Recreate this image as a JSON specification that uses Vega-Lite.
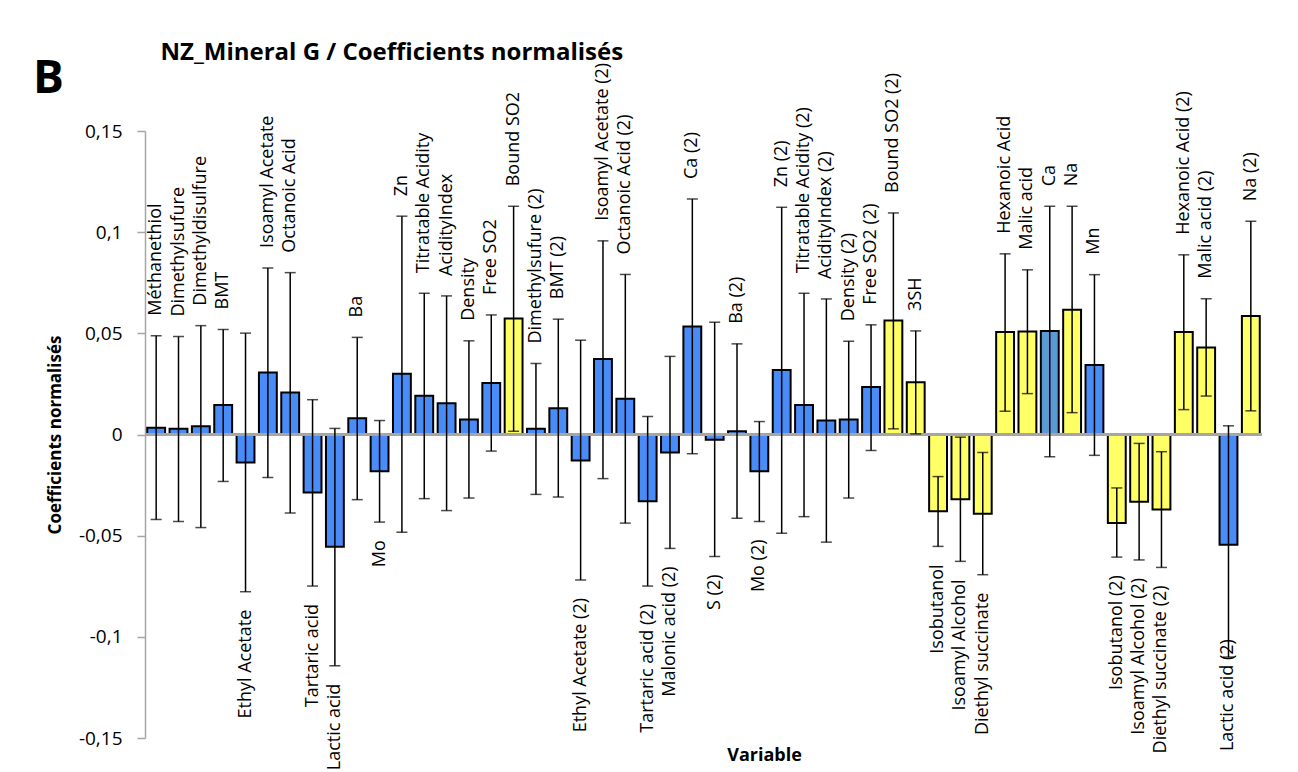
{
  "$schema": "https://vega.github.io/schema/vega-lite/v6.json",
  "width": 1117,
  "height": 607,
  "autosize": {"type": "none"},
  "padding": {"left": 145, "top": 131, "right": 36, "bottom": 34},
  "background": "white",
  "config": {"view": {"stroke": null}, "font": "Open Sans"},
  "data": {
    "values": [
      {"name": "Méthanethiol", "v": 0.0033, "lo": -0.042, "hi": 0.0488, "g": "b"},
      {"name": "Dimethylsufure", "v": 0.0028, "lo": -0.043, "hi": 0.0484, "g": "b"},
      {"name": "Dimethyldisulfure", "v": 0.0041, "lo": -0.046, "hi": 0.0538, "g": "b"},
      {"name": "BMT", "v": 0.0146, "lo": -0.0232, "hi": 0.0519, "g": "b"},
      {"name": "Ethyl Acetate", "v": -0.0138, "lo": -0.0777, "hi": 0.0501, "g": "b"},
      {"name": "Isoamyl Acetate", "v": 0.0307, "lo": -0.0212, "hi": 0.0823, "g": "b"},
      {"name": "Octanoic Acid", "v": 0.0208, "lo": -0.0388, "hi": 0.08, "g": "b"},
      {"name": "Tartaric  acid", "v": -0.0287, "lo": -0.0749, "hi": 0.0172, "g": "b"},
      {"name": "Lactic acid", "v": -0.0555, "lo": -0.1143, "hi": 0.003, "g": "b"},
      {"name": "Ba", "v": 0.008, "lo": -0.0322, "hi": 0.048, "g": "b"},
      {"name": "Mo", "v": -0.0182, "lo": -0.0433, "hi": 0.0069, "g": "b"},
      {"name": "Zn", "v": 0.03, "lo": -0.0483, "hi": 0.1079, "g": "b"},
      {"name": "Titratable Acidity", "v": 0.0192, "lo": -0.0317, "hi": 0.0698, "g": "b"},
      {"name": "AcidityIndex", "v": 0.0154, "lo": -0.0376, "hi": 0.0685, "g": "b"},
      {"name": "Density", "v": 0.0074, "lo": -0.0314, "hi": 0.0463, "g": "b"},
      {"name": "Free SO2", "v": 0.0255, "lo": -0.0082, "hi": 0.0591, "g": "b"},
      {"name": "Bound SO2", "v": 0.0573, "lo": 0.0016, "hi": 0.1128, "g": "y"},
      {"name": "Dimethylsufure  (2)", "v": 0.0028, "lo": -0.0296, "hi": 0.0351, "g": "b"},
      {"name": "BMT (2)", "v": 0.013, "lo": -0.0309, "hi": 0.057, "g": "b"},
      {"name": "Ethyl Acetate  (2)", "v": -0.0128, "lo": -0.0719, "hi": 0.0466, "g": "b"},
      {"name": "Isoamyl Acetate  (2)", "v": 0.0373, "lo": -0.0218, "hi": 0.0957, "g": "b"},
      {"name": "Octanoic Acid (2)", "v": 0.0177, "lo": -0.0438, "hi": 0.0791, "g": "b"},
      {"name": "Tartaric  acid (2)", "v": -0.033, "lo": -0.0749, "hi": 0.0089, "g": "b"},
      {"name": "Malonic acid (2)", "v": -0.0089, "lo": -0.0563, "hi": 0.0386, "g": "b"},
      {"name": "Ca (2)", "v": 0.0534, "lo": -0.0095, "hi": 0.1164, "g": "b"},
      {"name": "S (2)", "v": -0.0026, "lo": -0.0603, "hi": 0.0555, "g": "b"},
      {"name": "Ba (2)", "v": 0.0016, "lo": -0.0414, "hi": 0.0448, "g": "b"},
      {"name": "Mo (2)", "v": -0.0182, "lo": -0.043, "hi": 0.0064, "g": "b"},
      {"name": "Zn (2)", "v": 0.0319, "lo": -0.0488, "hi": 0.1123, "g": "b"},
      {"name": "Titratable Acidity  (2)", "v": 0.0146, "lo": -0.0406, "hi": 0.0698, "g": "b"},
      {"name": "AcidityIndex (2)", "v": 0.0069, "lo": -0.0532, "hi": 0.067, "g": "b"},
      {"name": "Density (2)", "v": 0.0074, "lo": -0.0314, "hi": 0.0461, "g": "b"},
      {"name": "Free SO2  (2)", "v": 0.0235, "lo": -0.0079, "hi": 0.0542, "g": "b"},
      {"name": "Bound SO2  (2)", "v": 0.0563, "lo": 0.0028, "hi": 0.1095, "g": "y"},
      {"name": "3SH", "v": 0.0258, "lo": 0.0003, "hi": 0.0512, "g": "y"},
      {"name": "Isobutanol", "v": -0.0379, "lo": -0.0553, "hi": -0.0208, "g": "y"},
      {"name": "Isoamyl Alcohol", "v": -0.032, "lo": -0.0627, "hi": -0.0013, "g": "y"},
      {"name": "Diethyl succinate", "v": -0.0392, "lo": -0.0693, "hi": -0.0089, "g": "y"},
      {"name": "Hexanoic Acid", "v": 0.0506, "lo": 0.0115, "hi": 0.0893, "g": "y"},
      {"name": "Malic acid", "v": 0.0509, "lo": 0.0202, "hi": 0.0814, "g": "y"},
      {"name": "Ca", "v": 0.0512, "lo": -0.011, "hi": 0.1128, "g": "c"},
      {"name": "Na", "v": 0.0617, "lo": 0.0108, "hi": 0.1128, "g": "y"},
      {"name": "Mn", "v": 0.0343, "lo": -0.0103, "hi": 0.079, "g": "b"},
      {"name": "Isobutanol (2)", "v": -0.0437, "lo": -0.0606, "hi": -0.0264, "g": "y"},
      {"name": "Isoamyl Alcohol (2)", "v": -0.0332, "lo": -0.062, "hi": -0.0044, "g": "y"},
      {"name": "Diethyl succinate (2)", "v": -0.0371, "lo": -0.0657, "hi": -0.0085, "g": "y"},
      {"name": "Hexanoic Acid (2)", "v": 0.0507, "lo": 0.0123, "hi": 0.0888, "g": "y"},
      {"name": "Malic acid (2)", "v": 0.043, "lo": 0.019, "hi": 0.0671, "g": "y"},
      {"name": "Lactic acid (2)", "v": -0.0545, "lo": -0.11, "hi": 0.0043, "g": "b"},
      {"name": "Na (2)", "v": 0.0586, "lo": 0.0117, "hi": 0.1054, "g": "y"}
    ]
  },
  "layer": [
    {
      "mark": {"type": "bar", "stroke": "black", "strokeWidth": 2},
      "encoding": {
        "x": {
          "field": "name", "type": "nominal", "sort": null,
          "scale": {"paddingInner": 0.2, "paddingOuter": 0.1},
          "axis": {
            "orient": "bottom", "labels": false, "ticks": false, "domain": false,
            "title": "Variable", "titleFont": "Open Sans", "titleFontSize": 18,
            "titleFontWeight": "bold", "titleColor": "black",
            "titleX": 619, "titleY": 17, "titleBaseline": "middle", "titleAlign": "center"
          }
        },
        "y": {
          "field": "v", "type": "quantitative",
          "scale": {"domain": [-0.15, 0.15], "nice": false, "zero": false},
          "axis": {
            "orient": "left",
            "values": [-0.15, -0.1, -0.05, 0, 0.05, 0.1, 0.15],
            "labelExpr": "replace(toString(datum.value), '.', ',')",
            "grid": false, "domainColor": "#A6A6A6", "domainWidth": 1.5,
            "tickColor": "#A6A6A6", "tickSize": 8, "tickWidth": 1.5,
            "labelFont": "Open Sans", "labelFontSize": 19, "labelColor": "black", "labelPadding": 15,
            "title": "Coefficients normalisés", "titleFont": "Open Sans", "titleFontSize": 17,
            "titleFontWeight": "bold", "titleColor": "black",
            "titleX": -90, "titleBaseline": "middle", "titleAlign": "center"
          }
        },
        "y2": {"datum": 0},
        "color": {
          "field": "g", "type": "nominal",
          "scale": {"domain": ["b", "y", "c"], "range": ["#4A8CF7", "#FFFF66", "#5B9BD5"]},
          "legend": null
        }
      }
    },
    {
      "mark": {"type": "rule", "color": "#A6A6A6", "strokeWidth": 2},
      "encoding": {"y": {"datum": 0, "type": "quantitative", "axis": null}}
    },
    {
      "mark": {"type": "errorbar", "ticks": {"size": 11}, "thickness": 1.5, "color": "black"},
      "encoding": {
        "x": {"field": "name", "type": "nominal", "sort": null, "axis": null},
        "y": {"field": "lo", "type": "quantitative", "axis": null},
        "y2": {"field": "hi"}
      }
    },
    {
      "mark": {"type": "text", "angle": 270, "align": "left", "baseline": "middle", "dx": 20, "font": "Open Sans", "fontSize": 18, "color": "black"},
      "encoding": {
        "x": {
          "field": "name", "type": "nominal", "sort": null,
          "axis": {
            "orient": "top", "labels": false, "ticks": false, "domain": false,
            "title": "NZ_Mineral G / Coefficients normalisés", "titleFont": "Open Sans",
            "titleFontSize": 24, "titleFontWeight": "bold", "titleColor": "black",
            "titleX": 15, "titleY": -79, "titleAlign": "left", "titleBaseline": "middle", "titleAngle": 0
          }
        },
        "y": {
          "field": "hi", "type": "quantitative",
          "axis": {
            "orient": "right", "labels": false, "ticks": false, "domain": false, "grid": false,
            "title": "B", "titleFont": "Open Sans", "titleFontSize": 46, "titleFontWeight": "bold",
            "titleColor": "black", "titleAngle": 0,
            "titleX": -1214, "titleY": -53, "titleAlign": "center", "titleBaseline": "middle"
          }
        },
        "text": {"condition": {"test": "datum.v > 0", "field": "name"}, "value": ""}
      }
    },
    {
      "mark": {"type": "text", "angle": 270, "align": "right", "baseline": "middle", "dx": -18, "font": "Open Sans", "fontSize": 18, "color": "black"},
      "encoding": {
        "x": {"field": "name", "type": "nominal", "sort": null, "axis": null},
        "y": {"field": "lo", "type": "quantitative", "axis": null},
        "text": {"condition": {"test": "datum.v < 0 && datum.name != 'Lactic acid (2)'", "field": "name"}, "value": ""}
      }
    },
    {
      "mark": {"type": "text", "angle": 270, "align": "right", "baseline": "middle", "dx": 18, "font": "Open Sans", "fontSize": 18, "color": "black"},
      "encoding": {
        "x": {"field": "name", "type": "nominal", "sort": null, "axis": null},
        "y": {"field": "lo", "type": "quantitative", "axis": null},
        "text": {"condition": {"test": "datum.name == 'Lactic acid (2)'", "field": "name"}, "value": ""}
      }
    }
  ],
  "resolve": {"axis": {"x": "independent", "y": "independent"}}
}
